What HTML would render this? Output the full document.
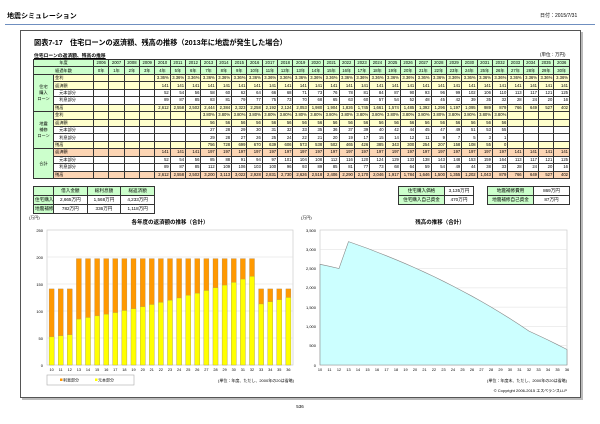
<!DOCTYPE html><html><head><meta charset="utf-8"><style>
*{margin:0;padding:0}
body{width:600px;height:424px;background:#fff;position:relative;overflow:hidden;font-family:"Liberation Sans","Noto Sans CJK JP",sans-serif;color:#000}
.a{position:absolute;white-space:nowrap}
table{border-collapse:collapse;table-layout:fixed;position:absolute}
td{border:0.6px solid #333;font-size:4.2px;line-height:6px;height:6.4px;padding:0 1px;text-align:right;overflow:hidden;white-space:nowrap}
.t td{height:6.44px}
.g{background:#ccffcc;text-align:center}
.y td{background:#ffffcc}
.o td{background:#fcd5b4}
.y td.g,.o td.g{background:#ccffcc}
.l{text-align:left}
.s td{font-size:4.6px;height:8px;text-align:center}
</style></head><body>
<div class="a" style="left:7px;top:11px;font-size:7px;font-weight:bold">地震シミュレーション</div>
<div class="a" style="left:540px;top:12px;font-size:5px">日付：2015/7/31</div>
<div class="a" style="left:5px;top:24px;width:590px;height:1px;background:#6f8fc0"></div>
<div class="a" style="left:20px;top:30px;width:559px;height:366px;border:1px solid #555;box-shadow:2px 2px 0 #bbb"></div>
<div class="a" style="left:34px;top:38px;font-size:7.2px;font-weight:bold">図表7-17　住宅ローンの返済額、残高の推移（2013年に地震が発生した場合）</div>
<div class="a" style="left:34px;top:52px;font-size:4.8px;font-weight:bold;text-decoration:underline">住宅ローンの返済額、残高の推移</div>
<div class="a" style="left:540px;top:52px;font-size:4.5px">(単位：万円)</div>
<table class="t" style="left:33px;top:59px;width:537px">
<colgroup><col style="width:20px"><col style="width:40px"></colgroup>
<tr class="g"><td class="g" colspan="2">年度</td><td class="g">2006</td><td class="g">2007</td><td class="g">2008</td><td class="g">2009</td><td class="g">2010</td><td class="g">2011</td><td class="g">2012</td><td class="g">2013</td><td class="g">2014</td><td class="g">2015</td><td class="g">2016</td><td class="g">2017</td><td class="g">2018</td><td class="g">2019</td><td class="g">2020</td><td class="g">2021</td><td class="g">2022</td><td class="g">2023</td><td class="g">2024</td><td class="g">2025</td><td class="g">2026</td><td class="g">2027</td><td class="g">2028</td><td class="g">2029</td><td class="g">2030</td><td class="g">2031</td><td class="g">2032</td><td class="g">2033</td><td class="g">2034</td><td class="g">2035</td><td class="g">2036</td></tr>
<tr><td class="g" colspan="2">経過年数</td><td class="g">0年</td><td class="g">1年</td><td class="g">2年</td><td class="g">3年</td><td class="g">4年</td><td class="g">5年</td><td class="g">6年</td><td class="g">7年</td><td class="g">8年</td><td class="g">9年</td><td class="g">10年</td><td class="g">11年</td><td class="g">12年</td><td class="g">13年</td><td class="g">14年</td><td class="g">15年</td><td class="g">16年</td><td class="g">17年</td><td class="g">18年</td><td class="g">19年</td><td class="g">20年</td><td class="g">21年</td><td class="g">22年</td><td class="g">23年</td><td class="g">24年</td><td class="g">25年</td><td class="g">26年</td><td class="g">27年</td><td class="g">28年</td><td class="g">29年</td><td class="g">30年</td></tr>
<tr class="y"><td class="g" rowspan="5">住宅<br>購入<br>ローン</td><td class="l">金利</td><td></td><td></td><td></td><td></td><td>3.36%</td><td>3.36%</td><td>3.36%</td><td>3.36%</td><td>3.36%</td><td>3.36%</td><td>3.36%</td><td>3.36%</td><td>3.36%</td><td>3.36%</td><td>3.36%</td><td>3.36%</td><td>3.36%</td><td>3.36%</td><td>3.36%</td><td>3.36%</td><td>3.36%</td><td>3.36%</td><td>3.36%</td><td>3.36%</td><td>3.36%</td><td>3.36%</td><td>3.36%</td><td>3.36%</td><td>3.36%</td><td>3.36%</td><td>3.36%</td></tr>
<tr class="y"><td class="l">返済額</td><td></td><td></td><td></td><td></td><td>141</td><td>141</td><td>141</td><td>141</td><td>141</td><td>141</td><td>141</td><td>141</td><td>141</td><td>141</td><td>141</td><td>141</td><td>141</td><td>141</td><td>141</td><td>141</td><td>141</td><td>141</td><td>141</td><td>141</td><td>141</td><td>141</td><td>141</td><td>141</td><td>141</td><td>141</td><td>141</td></tr>
<tr><td class="l">　元本部分</td><td></td><td></td><td></td><td></td><td>52</td><td>54</td><td>56</td><td>58</td><td>60</td><td>62</td><td>64</td><td>66</td><td>68</td><td>71</td><td>73</td><td>76</td><td>78</td><td>81</td><td>84</td><td>87</td><td>90</td><td>93</td><td>96</td><td>99</td><td>102</td><td>106</td><td>110</td><td>113</td><td>117</td><td>121</td><td>125</td></tr>
<tr><td class="l">　利息部分</td><td></td><td></td><td></td><td></td><td>89</td><td>87</td><td>85</td><td>83</td><td>81</td><td>79</td><td>77</td><td>75</td><td>73</td><td>70</td><td>68</td><td>65</td><td>63</td><td>60</td><td>57</td><td>54</td><td>52</td><td>48</td><td>45</td><td>42</td><td>39</td><td>35</td><td>32</td><td>28</td><td>24</td><td>20</td><td>16</td></tr>
<tr class="y"><td class="l">残高</td><td></td><td></td><td></td><td></td><td>2,612</td><td>2,558</td><td>2,502</td><td>2,444</td><td>2,384</td><td>2,323</td><td>2,258</td><td>2,192</td><td>2,124</td><td>2,053</td><td>1,980</td><td>1,904</td><td>1,826</td><td>1,745</td><td>1,661</td><td>1,574</td><td>1,485</td><td>1,392</td><td>1,296</td><td>1,197</td><td>1,095</td><td>989</td><td>879</td><td>766</td><td>649</td><td>527</td><td>402</td></tr>
<tr class="y"><td class="g" rowspan="5">地震<br>補修<br>ローン</td><td class="l">金利</td><td></td><td></td><td></td><td></td><td></td><td></td><td></td><td>3.80%</td><td>3.80%</td><td>3.80%</td><td>3.80%</td><td>3.80%</td><td>3.80%</td><td>3.80%</td><td>3.80%</td><td>3.80%</td><td>3.80%</td><td>3.80%</td><td>3.80%</td><td>3.80%</td><td>3.80%</td><td>3.80%</td><td>3.80%</td><td>3.80%</td><td>3.80%</td><td>3.80%</td><td>3.80%</td><td></td><td></td><td></td><td></td></tr>
<tr class="y"><td class="l">返済額</td><td></td><td></td><td></td><td></td><td></td><td></td><td></td><td>56</td><td>56</td><td>56</td><td>56</td><td>56</td><td>56</td><td>56</td><td>56</td><td>56</td><td>56</td><td>56</td><td>56</td><td>56</td><td>56</td><td>56</td><td>56</td><td>56</td><td>56</td><td>56</td><td>56</td><td></td><td></td><td></td><td></td></tr>
<tr><td class="l">　元本部分</td><td></td><td></td><td></td><td></td><td></td><td></td><td></td><td>27</td><td>28</td><td>29</td><td>30</td><td>31</td><td>32</td><td>33</td><td>35</td><td>36</td><td>37</td><td>39</td><td>40</td><td>42</td><td>44</td><td>45</td><td>47</td><td>49</td><td>51</td><td>53</td><td>55</td><td></td><td></td><td></td><td></td></tr>
<tr><td class="l">　利息部分</td><td></td><td></td><td></td><td></td><td></td><td></td><td></td><td>29</td><td>28</td><td>27</td><td>26</td><td>25</td><td>24</td><td>22</td><td>21</td><td>20</td><td>19</td><td>17</td><td>15</td><td>14</td><td>12</td><td>11</td><td>9</td><td>7</td><td>5</td><td>3</td><td>1</td><td></td><td></td><td></td><td></td></tr>
<tr class="y"><td class="l">残高</td><td></td><td></td><td></td><td></td><td></td><td></td><td></td><td>756</td><td>728</td><td>699</td><td>670</td><td>639</td><td>606</td><td>573</td><td>538</td><td>502</td><td>465</td><td>426</td><td>385</td><td>343</td><td>300</td><td>254</td><td>207</td><td>158</td><td>108</td><td>55</td><td>0</td><td></td><td></td><td></td><td></td></tr>
<tr class="o"><td class="g" rowspan="4">合計</td><td class="l">返済額</td><td></td><td></td><td></td><td></td><td>141</td><td>141</td><td>141</td><td>197</td><td>197</td><td>197</td><td>197</td><td>197</td><td>197</td><td>197</td><td>197</td><td>197</td><td>197</td><td>197</td><td>197</td><td>197</td><td>197</td><td>197</td><td>197</td><td>197</td><td>197</td><td>197</td><td>197</td><td>141</td><td>141</td><td>141</td><td>141</td></tr>
<tr><td class="l">　元本部分</td><td></td><td></td><td></td><td></td><td>52</td><td>54</td><td>56</td><td>85</td><td>88</td><td>91</td><td>94</td><td>97</td><td>101</td><td>104</td><td>108</td><td>112</td><td>116</td><td>120</td><td>124</td><td>129</td><td>133</td><td>138</td><td>143</td><td>148</td><td>153</td><td>159</td><td>164</td><td>113</td><td>117</td><td>121</td><td>125</td></tr>
<tr><td class="l">　利息部分</td><td></td><td></td><td></td><td></td><td>89</td><td>87</td><td>85</td><td>112</td><td>109</td><td>106</td><td>103</td><td>100</td><td>96</td><td>93</td><td>89</td><td>85</td><td>81</td><td>77</td><td>73</td><td>68</td><td>64</td><td>59</td><td>54</td><td>49</td><td>44</td><td>38</td><td>33</td><td>28</td><td>24</td><td>20</td><td>16</td></tr>
<tr class="o"><td class="l">残高</td><td></td><td></td><td></td><td></td><td>2,612</td><td>2,558</td><td>2,502</td><td>3,200</td><td>3,113</td><td>3,022</td><td>2,928</td><td>2,831</td><td>2,730</td><td>2,626</td><td>2,518</td><td>2,406</td><td>2,290</td><td>2,170</td><td>2,046</td><td>1,917</td><td>1,784</td><td>1,646</td><td>1,500</td><td>1,355</td><td>1,202</td><td>1,043</td><td>879</td><td>766</td><td>649</td><td>527</td><td>402</td></tr>
</table>
<table class="s" style="left:33px;top:186px;width:122px"><colgroup><col style="width:20px"><col><col><col></colgroup>
<tr><td class="g"></td><td class="g">借入金額</td><td class="g">総利息額</td><td class="g">総返済額</td></tr>
<tr><td class="g">住宅購入</td><td>2,665万円</td><td>1,568万円</td><td>4,233万円</td></tr>
<tr><td class="g">地震補修</td><td>782万円</td><td>336万円</td><td>1,118万円</td></tr></table>
<table class="s" style="left:398px;top:186px;width:76px"><colgroup><col style="width:46px"><col></colgroup>
<tr><td class="g l">住宅購入価格</td><td>3,135万円</td></tr><tr><td class="g l">住宅購入自己資金</td><td>470万円</td></tr></table>
<table class="s" style="left:487px;top:186px;width:83px"><colgroup><col style="width:46px"><col></colgroup>
<tr><td class="g l">地震補修費用</td><td>869万円</td></tr><tr><td class="g l">地震補修自己資金</td><td>87万円</td></tr></table>
<svg class="a" style="left:0;top:0" width="600" height="424" font-family="Liberation Sans,Noto Sans CJK JP,sans-serif">
<g font-size="4" text-anchor="end">
<text x="29" y="219" text-anchor="start">(万円)</text>
<text x="43" y="232">250</text><text x="43" y="259">200</text><text x="43" y="286">150</text><text x="43" y="313">100</text><text x="43" y="340">50</text><text x="43" y="367">0</text>
<text x="301" y="219" text-anchor="start">(万円)</text>
<text x="316" y="232">3,500</text><text x="316" y="251">3,000</text><text x="316" y="270">2,500</text><text x="316" y="289">2,000</text><text x="316" y="309">1,500</text><text x="316" y="328">1,000</text><text x="316" y="347">500</text><text x="316" y="367">0</text>
</g>
<text x="170" y="224" font-size="5.5" font-weight="bold" text-anchor="middle">各年度の返済額の推移（合計）</text>
<text x="440" y="224" font-size="5.5" font-weight="bold" text-anchor="middle">残高の推移（合計）</text>
<rect x="47" y="230" width="246" height="135" fill="#fff" stroke="#ccc" stroke-width="0.7"/>
<g stroke="#ddd" stroke-width="0.5"><line x1="47" x2="293" y1="257" y2="257"/><line x1="47" x2="293" y1="284" y2="284"/><line x1="47" x2="293" y1="311" y2="311"/><line x1="47" x2="293" y1="338" y2="338"/></g>
<g fill="#ff9900" stroke="#a08060" stroke-width="0.3">
<rect x="49.1" y="288.9" width="5" height="76.1"/><rect x="58.2" y="288.9" width="5" height="76.1"/><rect x="67.3" y="288.9" width="5" height="76.1"/>
<rect x="76.4" y="258.6" width="5" height="106.4"/><rect x="85.5" y="258.6" width="5" height="106.4"/><rect x="94.6" y="258.6" width="5" height="106.4"/><rect x="103.7" y="258.6" width="5" height="106.4"/><rect x="112.8" y="258.6" width="5" height="106.4"/><rect x="121.9" y="258.6" width="5" height="106.4"/><rect x="131" y="258.6" width="5" height="106.4"/><rect x="140.2" y="258.6" width="5" height="106.4"/><rect x="149.3" y="258.6" width="5" height="106.4"/><rect x="158.4" y="258.6" width="5" height="106.4"/><rect x="167.5" y="258.6" width="5" height="106.4"/><rect x="176.6" y="258.6" width="5" height="106.4"/><rect x="185.7" y="258.6" width="5" height="106.4"/><rect x="194.8" y="258.6" width="5" height="106.4"/><rect x="203.9" y="258.6" width="5" height="106.4"/><rect x="213" y="258.6" width="5" height="106.4"/><rect x="222.1" y="258.6" width="5" height="106.4"/><rect x="231.3" y="258.6" width="5" height="106.4"/><rect x="240.4" y="258.6" width="5" height="106.4"/><rect x="249.5" y="258.6" width="5" height="106.4"/>
<rect x="258.6" y="288.9" width="5" height="76.1"/><rect x="267.7" y="288.9" width="5" height="76.1"/><rect x="276.8" y="288.9" width="5" height="76.1"/><rect x="285.9" y="288.9" width="5" height="76.1"/>
</g>
<g fill="#ffff00" stroke="#a0a060" stroke-width="0.3">
<rect x="49.1" y="336.9" width="5" height="28.1"/><rect x="58.2" y="335.8" width="5" height="29.2"/><rect x="67.3" y="334.8" width="5" height="30.2"/><rect x="76.4" y="319.1" width="5" height="45.9"/><rect x="85.5" y="317.5" width="5" height="47.5"/><rect x="94.6" y="315.9" width="5" height="49.1"/><rect x="103.7" y="314.2" width="5" height="50.8"/><rect x="112.8" y="312.6" width="5" height="52.4"/><rect x="121.9" y="310.5" width="5" height="54.5"/><rect x="131" y="308.8" width="5" height="56.2"/><rect x="140.2" y="306.7" width="5" height="58.3"/><rect x="149.3" y="304.5" width="5" height="60.5"/><rect x="158.4" y="302.4" width="5" height="62.6"/><rect x="167.5" y="300.2" width="5" height="64.8"/><rect x="176.6" y="298" width="5" height="67"/><rect x="185.7" y="295.3" width="5" height="69.7"/><rect x="194.8" y="293.2" width="5" height="71.8"/><rect x="203.9" y="290.5" width="5" height="74.5"/><rect x="213" y="287.8" width="5" height="77.2"/><rect x="222.1" y="285.1" width="5" height="79.9"/><rect x="231.3" y="282.4" width="5" height="82.6"/><rect x="240.4" y="279.1" width="5" height="85.9"/><rect x="249.5" y="276.4" width="5" height="88.6"/><rect x="258.6" y="304" width="5" height="61"/><rect x="267.7" y="301.8" width="5" height="63.2"/><rect x="276.8" y="299.7" width="5" height="65.3"/><rect x="285.9" y="297.5" width="5" height="67.5"/>
</g>
<g font-size="3.8" text-anchor="middle">
<text x="51.6" y="371">10</text><text x="60.7" y="371">11</text><text x="69.8" y="371">12</text><text x="78.9" y="371">13</text><text x="88" y="371">14</text><text x="97.1" y="371">15</text><text x="106.2" y="371">16</text><text x="115.3" y="371">17</text><text x="124.4" y="371">18</text><text x="133.5" y="371">19</text><text x="142.7" y="371">20</text><text x="151.8" y="371">21</text><text x="160.9" y="371">22</text><text x="170" y="371">23</text><text x="179.1" y="371">24</text><text x="188.2" y="371">25</text><text x="197.3" y="371">26</text><text x="206.4" y="371">27</text><text x="215.5" y="371">28</text><text x="224.6" y="371">29</text><text x="233.8" y="371">30</text><text x="242.9" y="371">31</text><text x="252" y="371">32</text><text x="261.1" y="371">33</text><text x="270.2" y="371">34</text><text x="279.3" y="371">35</text><text x="288.4" y="371">36</text>
<text x="320" y="371">10</text><text x="329.5" y="371">11</text><text x="339" y="371">12</text><text x="348.5" y="371">13</text><text x="358" y="371">14</text><text x="367.5" y="371">15</text><text x="377" y="371">16</text><text x="386.5" y="371">17</text><text x="396" y="371">18</text><text x="405.5" y="371">19</text><text x="415" y="371">20</text><text x="424.5" y="371">21</text><text x="434" y="371">22</text><text x="443.5" y="371">23</text><text x="453" y="371">24</text><text x="462.5" y="371">25</text><text x="472" y="371">26</text><text x="481.5" y="371">27</text><text x="491" y="371">28</text><text x="500.5" y="371">29</text><text x="510" y="371">30</text><text x="519.5" y="371">31</text><text x="529" y="371">32</text><text x="538.5" y="371">33</text><text x="548" y="371">34</text><text x="557.5" y="371">35</text><text x="567" y="371">36</text>
</g>
<rect x="47" y="375" width="87" height="10" fill="#fff" stroke="#aaa" stroke-width="0.6"/>
<rect x="60" y="378.5" width="2.5" height="2.5" fill="#ff9900"/><text x="63" y="381.5" font-size="4">利息部分</text>
<rect x="95" y="378.5" width="2.5" height="2.5" fill="#ffff00"/><text x="98" y="381.5" font-size="4">元本部分</text>
<text x="294" y="382" font-size="4" text-anchor="end">(単位：年度、ただし、2000年の20は省略)</text>
<rect x="320" y="230" width="247" height="135" fill="#fff" stroke="#ccc" stroke-width="0.7"/>
<g stroke="#ddd" stroke-width="0.5"><line x1="320" x2="567" y1="249.3" y2="249.3"/><line x1="320" x2="567" y1="268.6" y2="268.6"/><line x1="320" x2="567" y1="287.9" y2="287.9"/><line x1="320" x2="567" y1="307.1" y2="307.1"/><line x1="320" x2="567" y1="326.4" y2="326.4"/><line x1="320" x2="567" y1="345.7" y2="345.7"/></g>
<polygon fill="#ccffff" stroke="#888" stroke-width="0.6" points="320,365 320,264.3 329.5,266.3 339,268.5 348.5,241.6 358,245 367.5,248.4 377,252.1 386.5,255.8 396,259.7 405.5,263.7 415,267.9 424.5,272.2 434,276.6 443.5,281.3 453,286.1 462.5,291.1 472,296.2 481.5,301.5 491,307 500.5,312.7 510,318.6 519.5,324.7 529,331.1 538.5,335.5 548,340 557.5,344.7 567,349.5 567,365"/>
<text x="567" y="382" font-size="4" text-anchor="end">(単位：年度末、ただし、2000年の20は省略)</text>
<text x="567" y="392" font-size="4" text-anchor="end">© Copyright 2006-2015 エスペランスLLP</text>
<text x="300" y="408" font-size="4.5" text-anchor="middle">536</text>
</svg>
</body></html>
